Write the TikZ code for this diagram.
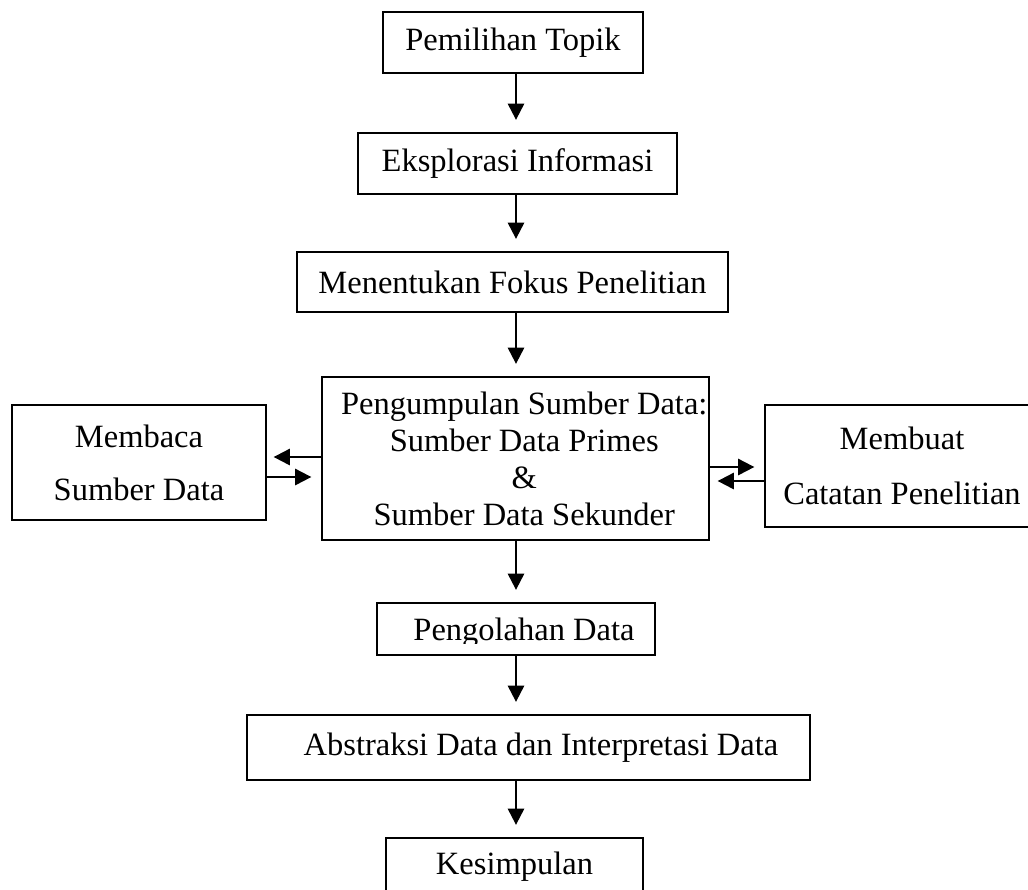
\documentclass[tikz,border=0pt]{standalone}
\usepackage{fontspec}
\setmainfont{Liberation Serif}
\usetikzlibrary{arrows.meta}

\begin{document}
\begin{tikzpicture}[x=0.4pt, y=-0.4pt, font=\fontsize{13}{14.8}\selectfont]
\tikzset{blok/.style={draw, line width=0.55pt, inner sep=0pt, align=center},
    panah/.style={-{Triangle[length=6.5pt, width=6.6pt]}, line width=0.55pt, shorten >=5pt}}
\useasboundingbox (0,0) rectangle (1028,889);

\coordinate (sumbu) at (516,0);

% alur utama
\node[blok, minimum width=104pt, minimum height=24.4pt] (topik) at (513,42.5)
    {Pemilihan Topik};
\node[blok, minimum width=127.6pt, minimum height=24.4pt] (eksplorasi) at (517.5,163.5)
    {Eksplorasi Informasi};
\node[blok, minimum width=172.4pt, minimum height=24pt] (fokus) at (512.5,282)
    {Menentukan Fokus Penelitian};
\node[blok, minimum width=154.8pt, minimum height=65.2pt] (kumpul) at (515.5,458.5)
    {\hspace{7pt}Pengumpulan Sumber Data:\\ \hspace{7pt}Sumber Data Primes\\ \hspace{7pt}\&\\ \hspace{7pt}Sumber Data Sekunder};
\node[blok, minimum width=111.2pt, minimum height=20.8pt] (olah) at (516,629) {};
\begin{scope}
  \clip (377,603) rectangle (655,643);
  \node[anchor=base, inner sep=0pt] (olahteks) at (524,640) {Pengolahan Data};
\end{scope}
\node[blok, minimum width=225.2pt, minimum height=26pt] (abstraksi) at (528.5,747.5)
    {\hspace{10pt}Abstraksi Data dan Interpretasi Data};
\node[blok, minimum width=102.8pt, minimum height=23.2pt] (simpul) at (514.5,867)
    {Kesimpulan};

% kotak samping
\node[blok, minimum width=101.6pt, minimum height=46pt] (baca) at (139,462.5)
    {Membaca\\[6.4pt] Sumber Data};
\node[blok, minimum width=109.6pt, minimum height=48.8pt] (catat) at (902,466)
    {Membuat\\[7.2pt] Catatan Penelitian};

\draw[panah] (topik.south -| sumbu) -- (eksplorasi.north -| sumbu);
\draw[panah] (eksplorasi.south -| sumbu) -- (fokus.north -| sumbu);
\draw[panah] (fokus.south -| sumbu) -- (kumpul.north -| sumbu);
\draw[panah] (kumpul.south -| sumbu) -- (olah.north -| sumbu);
\draw[panah] (olah.south -| sumbu) -- (abstraksi.north -| sumbu);
\draw[panah] (abstraksi.south -| sumbu) -- (simpul.north -| sumbu);

% panah samping
\draw[panah, shorten >=2.8pt] (kumpul.west |- 0,457) -- (baca.east |- 0,457);
\draw[panah, shorten >=4pt] (baca.east |- 0,477) -- (kumpul.west |- 0,477);
\draw[panah, shorten >=4pt] (kumpul.east |- 0,467) -- (catat.west |- 0,467);
\draw[panah, shorten >=3.2pt] (catat.west |- 0,481) -- (kumpul.east |- 0,481);

\end{tikzpicture}
\end{document}
